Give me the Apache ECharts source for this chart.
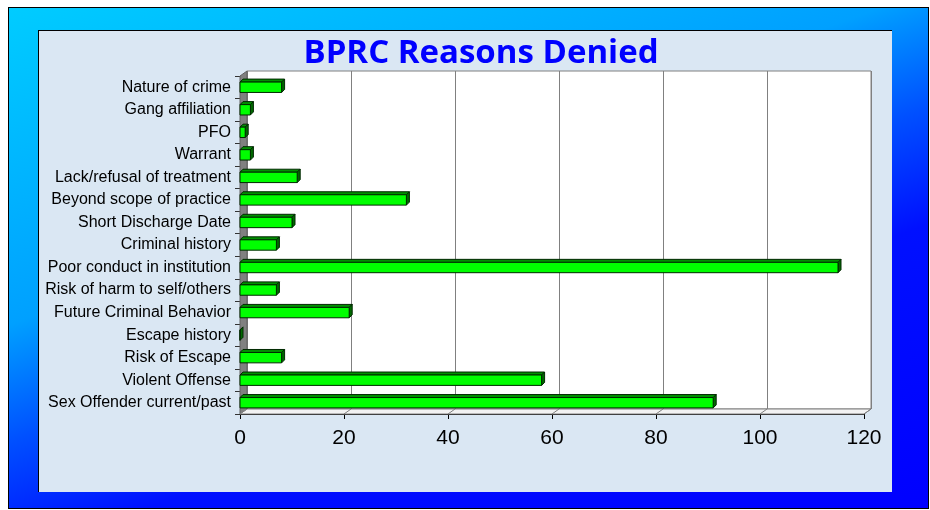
<!DOCTYPE html>
<html>
<head>
<meta charset="utf-8">
<script src="https://cdn.jsdelivr.net/npm/echarts@6/dist/echarts.min.js"></script>
<style>
html, body { margin: 0; padding: 0; background: #fff; }
#outer { position: absolute; left: 8px; top: 7px; width: 919px; height: 500px; border: 1px solid #000;
  background: linear-gradient(160deg, #00ccff 0%, #00a0ff 38%, #0050ff 52%, #0010ff 66%, #0000ff 100%); }
#panel { position: absolute; left: 38px; top: 30px; width: 853px; height: 461px;
  border-top: 1px solid #000; border-left: 1px solid #000; background: #dae7f3; }
#chart { position: absolute; left: 0; top: 0; width: 930px; height: 510px; }
</style>
</head>
<body>
<div id="outer"></div>
<div id="panel"></div>
<div id="chart"></div>
<script>
// reasons, top to bottom as shown
var categories = [
  'Nature of crime',
  'Gang affiliation',
  'PFO',
  'Warrant',
  'Lack/refusal of treatment',
  'Beyond scope of practice',
  'Short Discharge Date',
  'Criminal history',
  'Poor conduct in institution',
  'Risk of harm to self/others',
  'Future Criminal Behavior',
  'Escape history',
  'Risk of Escape',
  'Violent Offense',
  'Sex Offender current/past'
];
var counts = [8, 2, 1, 2, 11, 32, 10, 7, 115, 7, 21, 0, 8, 58, 91];
var xTicks = [0, 20, 40, 60, 80, 100, 120];

(function () {
  // front plane of the 3d box, and how far back the wall sits
  var plot = { left: 240, top: 76, width: 624, height: 338 }
  var DX = 7, DY = 5

  var chart = echarts.init(document.getElementById('chart'), null, { renderer: 'canvas' })

  var renderBar = function (params, api) {
    var v = api.value(0), c = api.value(1)
    var p0 = api.coord([0, c])
    var p1 = api.coord([v, c])
    var h = api.size([0, 1])[1] * 0.46
    var x0 = p0[0], x1 = p1[0]
    var y0 = p0[1] - h / 2, y1 = p0[1] + h / 2
    var d = 3
    var edge = '#002800'
    return {
      type: 'group',
      children: [
        { type: 'polygon', shape: { points: [[x0, y0], [x0 + d, y0 - d], [x1 + d, y0 - d], [x1, y0]] },
          style: { fill: '#009000', stroke: edge, lineWidth: 1 } },
        { type: 'polygon', shape: { points: [[x1, y0], [x1 + d, y0 - d], [x1 + d, y1 - d], [x1, y1]] },
          style: { fill: '#006800', stroke: edge, lineWidth: 1 } },
        { type: 'rect', shape: { x: x0, y: y0, width: x1 - x0, height: y1 - y0 },
          style: { fill: '#00ff00', stroke: edge, lineWidth: 1 } }
      ]
    }
  }

  var option = {
    animation: false,
    backgroundColor: 'transparent',
    grid: [
      { left: plot.left, top: plot.top, width: plot.width, height: plot.height },
      { left: plot.left + DX, top: plot.top - DY, width: plot.width, height: plot.height,
        show: true, backgroundColor: '#ffffff', borderColor: '#808080', borderWidth: 1 }
    ],
    xAxis: [
      { type: 'value', gridIndex: 0, min: xTicks[0], max: xTicks[xTicks.length - 1], interval: 20,
        axisLine: { show: true, lineStyle: { color: '#000', width: 1 } },
        axisTick: { show: true, length: 5, lineStyle: { color: '#000' } },
        axisLabel: { fontFamily: 'Liberation Sans, Arial, sans-serif', fontSize: 21, color: '#000', margin: 14 },
        splitLine: { show: false } },
      { type: 'value', gridIndex: 1, min: xTicks[0], max: xTicks[xTicks.length - 1], interval: 20,
        axisLine: { show: false }, axisTick: { show: false }, axisLabel: { show: false },
        splitLine: { show: true, lineStyle: { color: '#808080', width: 1 } } }
    ],
    yAxis: [
      { type: 'category', gridIndex: 0, data: categories, inverse: true,
        axisLine: { show: false },
        axisTick: { show: true, length: 5, lineStyle: { color: '#333' } },
        axisLabel: { fontFamily: 'Liberation Sans, Arial, sans-serif', fontSize: 16, color: '#000', margin: 9, interval: 0 } },
      { type: 'category', gridIndex: 1, data: categories, inverse: true, show: false }
    ],
    series: [
      { type: 'custom', xAxisIndex: 0, yAxisIndex: 0, renderItem: renderBar,
        encode: { x: 0, y: 1 }, z: 5,
        data: counts.map(function (v, i) { return [v, i] }) }
    ]
  }
  chart.setOption(option)

  // walls and floor of the 3d box, placed from the axis scale
  var xPix = function (v) { return chart.convertToPixel({ xAxisIndex: 0 }, v) }
  var x0 = xPix(0), x1 = xPix(xTicks[xTicks.length - 1])
  var yTop = plot.top, yBot = plot.top + plot.height
  var graphics = [
    { type: 'polygon', z: 3, shape: { points: [[x0, yTop], [x0 + DX, yTop - DY], [x0 + DX, yBot - DY], [x0, yBot]] },
      style: { fill: '#808080', stroke: '#606060', lineWidth: 1 } },
    { type: 'polygon', z: 3, shape: { points: [[x0, yBot], [x0 + DX, yBot - DY], [x1 + DX, yBot - DY], [x1, yBot]] },
      style: { fill: '#f2f2f2', stroke: '#808080', lineWidth: 1 } }
  ]
  xTicks.forEach(function (t) {
    var x = xPix(t)
    graphics.push({ type: 'line', z: 3, shape: { x1: x + DX, y1: yBot - DY, x2: x, y2: yBot },
      style: { stroke: '#808080', lineWidth: 1 } })
  })
  graphics.push({ type: 'text', z: 10, x: 481, y: 54,
    style: { text: 'BPRC Reasons Denied', fill: '#0000ff', align: 'center', verticalAlign: 'middle',
      font: 'bold 33px "Open Sans", "DejaVu Sans", sans-serif' } })
  chart.setOption({ graphic: graphics })
})()
</script>
</body>
</html>
